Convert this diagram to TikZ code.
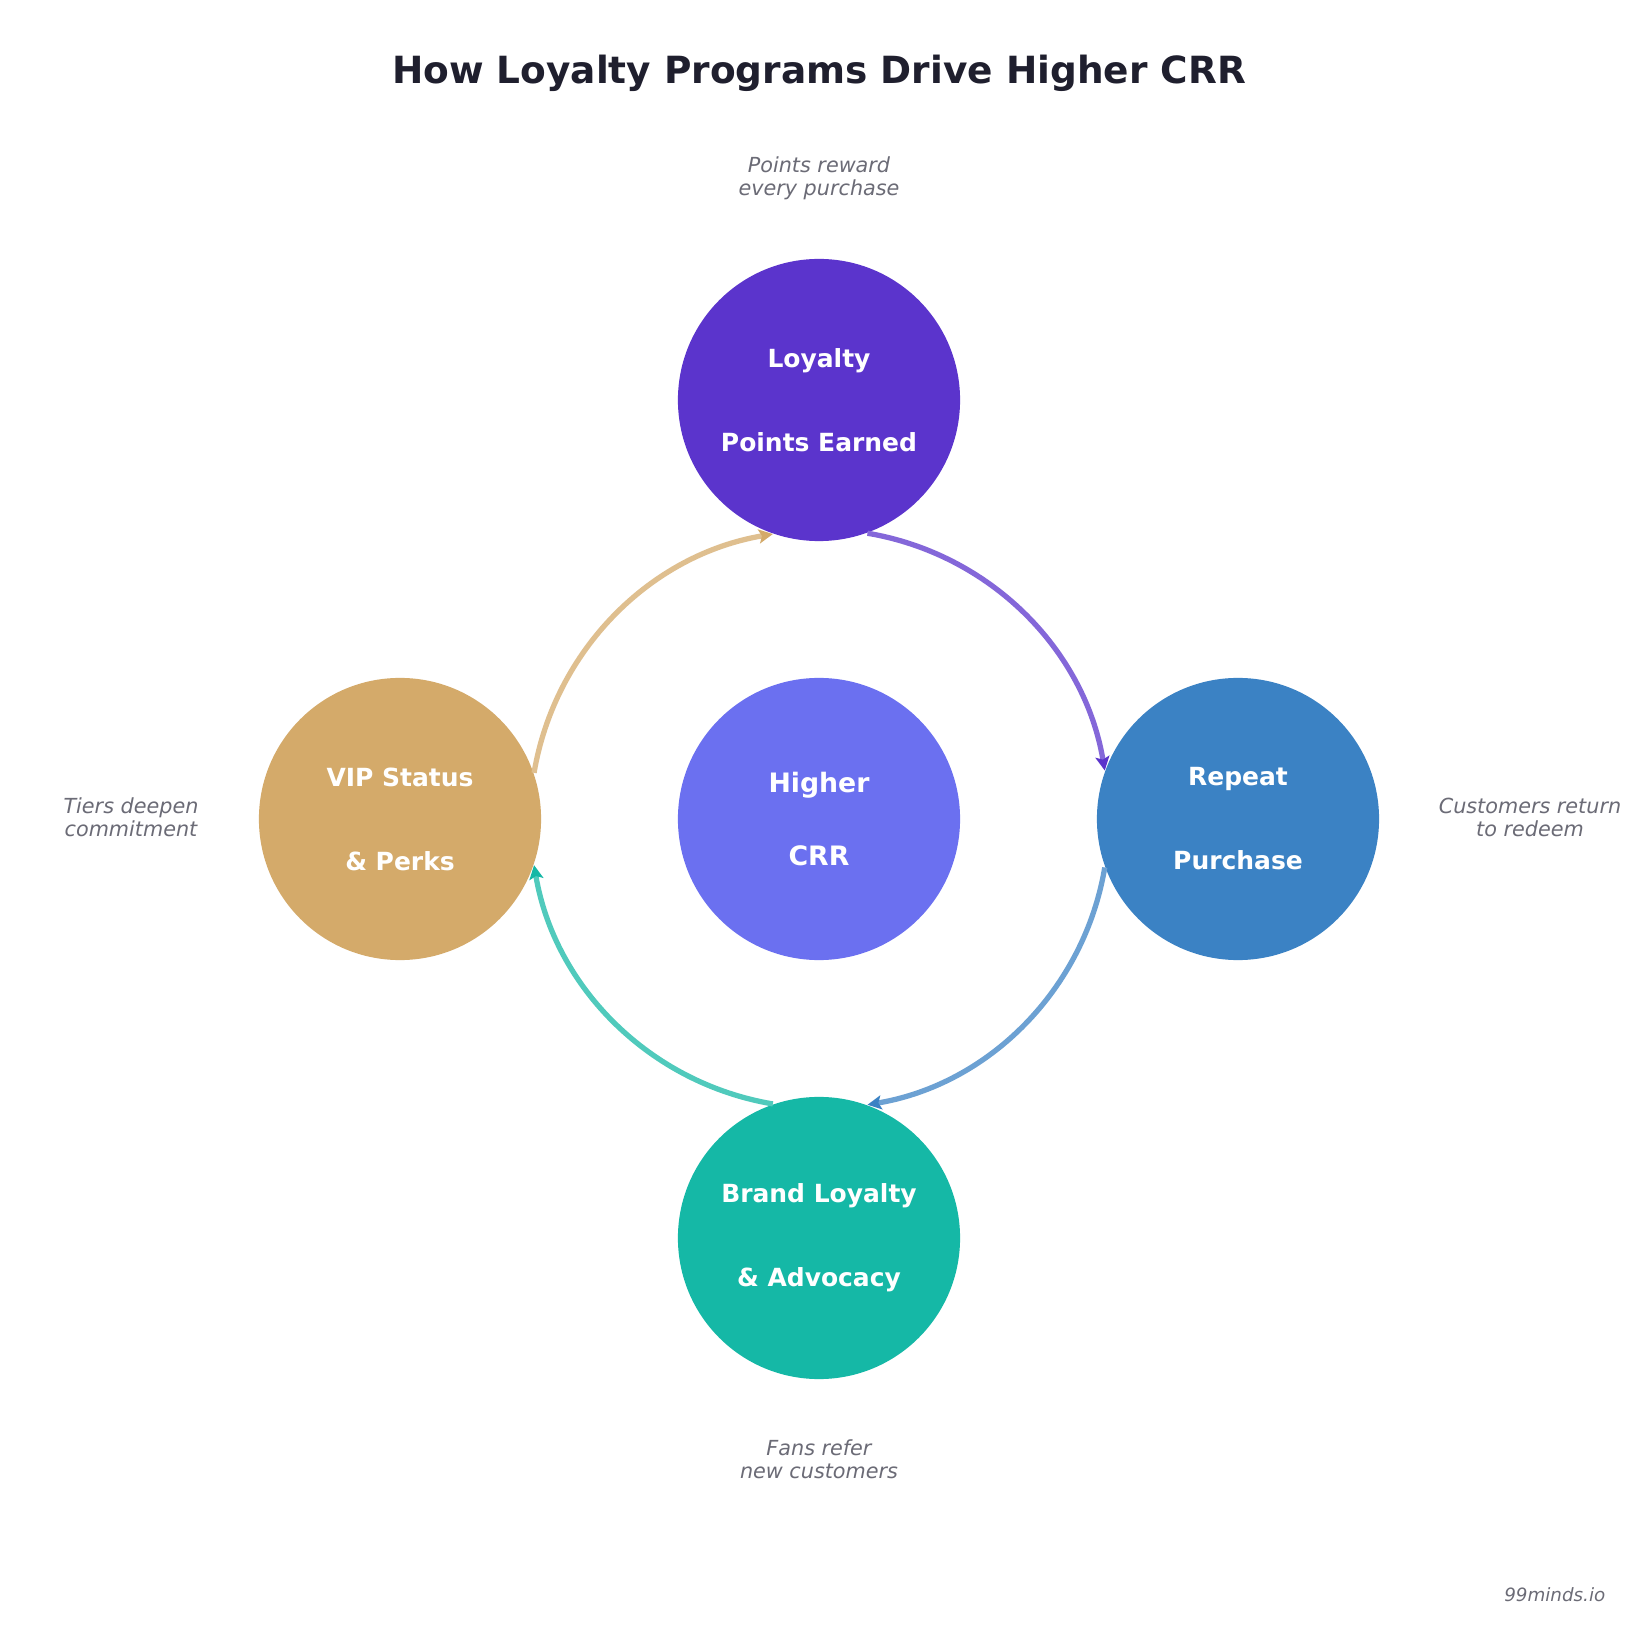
\documentclass[tikz,border=0pt]{standalone}
\usepackage{fontspec}
\setmainfont{DejaVu Sans}
\usetikzlibrary{arrows.meta}
\definecolor{cTop}{HTML}{5B34CC}
\definecolor{cMid}{HTML}{6B70F0}
\definecolor{cRight}{HTML}{3B82C4}
\definecolor{cBottom}{HTML}{15B8A6}
\definecolor{cLeft}{HTML}{D4AA6A}
\definecolor{cTitle}{HTML}{1F1F2E}
\definecolor{cGray}{HTML}{6B6B76}
\begin{document}
\begin{tikzpicture}[x=0.01cm,y=0.01cm,
  bubble/.style={circle, minimum size=2.82cm, inner sep=0pt, text=white, align=center,
    font=\fontsize{7.1}{23.9}\selectfont\bfseries},
  note/.style={align=center, text=cGray, font=\fontsize{5.9}{6.6}\selectfont\itshape},
  flow/.style={line width=1.5pt, draw=#1!75!white,
    -{Stealth[length=1.4mm,width=1.4mm,inset=0.3mm,color=#1]}}]
\path[fill=white] (0,0) rectangle (1638,1638);
\node[anchor=base, text=cTitle, font=\fontsize{10.65}{12}\selectfont\bfseries] (title) at (819,1554) {How Loyalty Programs Drive Higher CRR};
\node[bubble, fill=cTop] (top) at (819,1238) {Loyalty\\Points Earned};
\node[bubble, fill=cRight] (right) at (1238,819) {Repeat\\Purchase};
\node[bubble, fill=cBottom] (bottom) at (819,400) {Brand Loyalty\\\& Advocacy};
\node[bubble, fill=cLeft] (left) at (400,819) {VIP Status\\\& Perks};
\node[bubble, fill=cMid, font=\fontsize{7.6}{20.5}\selectfont\bfseries] (mid) at (819,819) {Higher\\CRR};
\draw[flow=cTop] (top.-70.1) to[bend left=35.44, looseness=0.94] (right.160.1);
\draw[flow=cRight] (right.-160.1) to[bend left=35.44, looseness=0.94] (bottom.70.1);
\draw[flow=cBottom] (bottom.109.9) to[bend left=35.44, looseness=0.94] (left.-19.9);
\draw[flow=cLeft] (left.19.9) to[bend left=35.44, looseness=0.94] (top.-109.9);
\node[note] (ntop) at (819,1459.5) {Points reward\\every purchase};
\node[note] (nright) at (1530,820.5) {Customers return\\to redeem};
\node[note] (nleft) at (131,820.5) {Tiers deepen\\commitment};
\node[note] (nbottom) at (819,178.5) {Fans refer\\new customers};
\node[anchor=east, inner sep=0pt, text=cGray, font=\fontsize{5.2}{6}\selectfont\itshape] (mark) at (1606,43) {99minds.io};
\end{tikzpicture}
\end{document}
